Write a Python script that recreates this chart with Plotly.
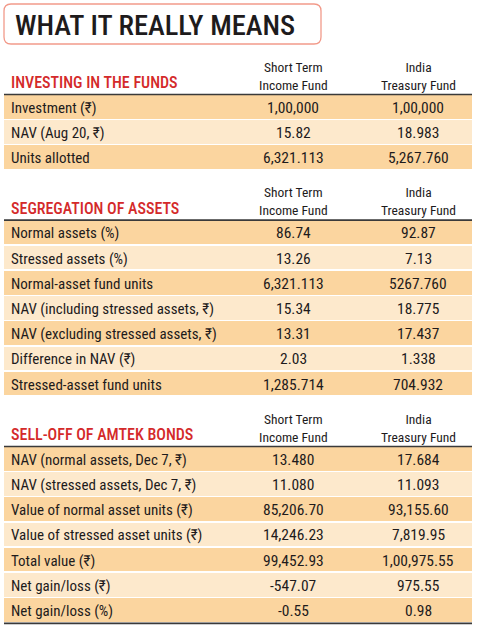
import plotly.graph_objects as go

# ---- data ----
title = "WHAT IT REALLY MEANS"
col_heads = ["Short Term<br>Income Fund", "India<br>Treasury Fund"]

sec_titles = ["INVESTING IN THE FUNDS", "SEGREGATION OF ASSETS", "SELL-OFF OF AMTEK BONDS"]

invest_labels = ["Investment (₹)", "NAV (Aug 20, ₹)", "Units allotted"]
invest_stif = ["1,00,000", "15.82", "6,321.113"]
invest_itf = ["1,00,000", "18.983", "5,267.760"]

segr_labels = ["Normal assets (%)", "Stressed assets (%)", "Normal-asset fund units",
               "NAV (including stressed assets, ₹)", "NAV (excluding stressed assets, ₹)",
               "Difference in NAV (₹)", "Stressed-asset fund units"]
segr_stif = ["86.74", "13.26", "6,321.113", "15.34", "13.31", "2.03", "1,285.714"]
segr_itf = ["92.87", "7.13", "5267.760", "18.775", "17.437", "1.338", "704.932"]

sell_labels = ["NAV (normal assets, Dec 7, ₹)", "NAV (stressed assets, Dec 7, ₹)",
               "Value of normal asset units (₹)", "Value of stressed asset units (₹)",
               "Total value (₹)", "Net gain/loss (₹)", "Net gain/loss (%)"]
sell_stif = ["13.480", "11.080", "85,206.70", "14,246.23", "99,452.93", "-547.07", "-0.55"]
sell_itf = ["17.684", "11.093", "93,155.60", "7,819.95", "1,00,975.55", "975.55", "0.98"]

sections = [
    (sec_titles[0], invest_labels, invest_stif, invest_itf),
    (sec_titles[1], segr_labels, segr_stif, segr_itf),
    (sec_titles[2], sell_labels, sell_stif, sell_itf),
]

# ---- style ----
W, H = 480, 628
FONT = "Roboto Condensed, DejaVu Sans Condensed, Liberation Sans Narrow, sans-serif"
DARK = "#fbd59f"
LIGHT = "#fde9cc"
RED = "#d42a2a"
INK = "#1e1b1c"
LEFT, RIGHT = 4, 472
COL_X = [293, 418]
PITCH = 25.2
GAP = 50

fig = go.Figure()

# title box (rounded)
x0, y0, x1, y1, r = 4, 4, 321, 44, 7
fig.add_shape(
    type="path",
    path=(f"M{x0+r},{y0} L{x1-r},{y0} Q{x1},{y0} {x1},{y0+r} L{x1},{y1-r} Q{x1},{y1} {x1-r},{y1} "
          f"L{x0+r},{y1} Q{x0},{y1} {x0},{y1-r} L{x0},{y0+r} Q{x0},{y0} {x0+r},{y0} Z"),
    line=dict(color="#f29a8a", width=1.3), fillcolor="white", layer="below",
)
fig.add_annotation(x=13, y=25.5, text=title, showarrow=False, xanchor="left", yanchor="middle",
                   font=dict(family=FONT, size=28.5, color=INK, weight=500))

line_y = 94.5
ann = []
for name, labels, v1, v2 in sections:
    n = len(labels)
    centers = [line_y + 0.5 + PITCH * i + (PITCH - 1.6) / 2 for i in range(n)]
    colors = [DARK if i % 2 == 0 else LIGHT for i in range(n)]
    fig.add_trace(go.Bar(
        orientation="h", y=centers, x=[RIGHT - LEFT] * n, base=LEFT,
        width=PITCH - 1.6, marker=dict(color=colors, line=dict(width=0)),
        hoverinfo="skip", showlegend=False,
    ))
    fig.add_shape(type="line", x0=LEFT, x1=RIGHT, y0=line_y, y1=line_y,
                  line=dict(color="#3a3a3a", width=1.6))
    ann.append(dict(x=9, y=line_y - 12, text=name, xanchor="left",
                    font=dict(family=FONT, size=16, color=RED, weight=500)))
    for cx, h in zip(COL_X, col_heads):
        ann.append(dict(x=cx, y=line_y - 19, text=h, xanchor="center",
                        font=dict(family=FONT, size=13.5, color=INK)))
    for c, lab, a, b in zip(centers, labels, v1, v2):
        ann.append(dict(x=9, y=c + 1, text=lab, xanchor="left",
                        font=dict(family=FONT, size=15, color=INK)))
        ann.append(dict(x=COL_X[0], y=c + 1, text=a, xanchor="center",
                        font=dict(family=FONT, size=15.5, color=INK)))
        ann.append(dict(x=COL_X[1], y=c + 1, text=b, xanchor="center",
                        font=dict(family=FONT, size=15.5, color=INK)))
    last_y = line_y + PITCH * n
    line_y = last_y + GAP

# closing rule under the last section
fig.add_shape(type="line", x0=LEFT, x1=RIGHT, y0=last_y + 0.5, y1=last_y + 0.5,
              line=dict(color="#3a3a3a", width=1.6))

for a in ann:
    fig.add_annotation(showarrow=False, yanchor="middle", **a)

fig.update_layout(
    width=W, height=H, margin=dict(l=0, r=0, t=0, b=0),
    paper_bgcolor="white", plot_bgcolor="white", bargap=0,
    xaxis=dict(range=[0, W], visible=False, fixedrange=True),
    yaxis=dict(range=[H, 0], visible=False, fixedrange=True),
)
fig.write_html("out.html", config={"displayModeBar": False},
               post_script="document.body.style.margin='0';")
